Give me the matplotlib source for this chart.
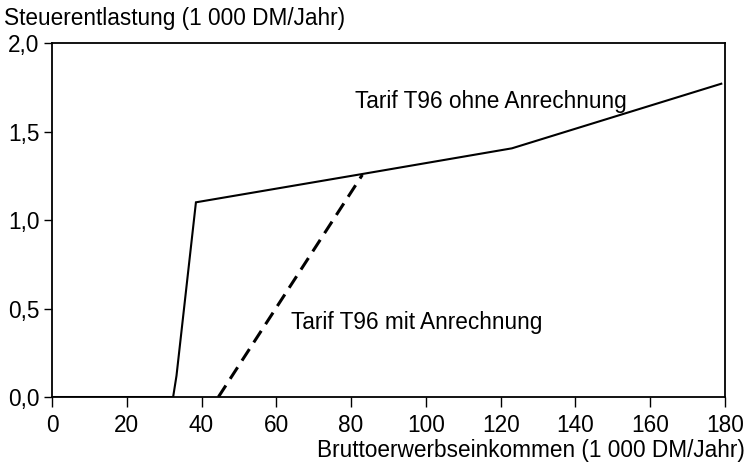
import matplotlib.pyplot as plt

# Werte
ohne_x = [0, 32.4, 33.3, 38.5, 83, 123, 179]
ohne_y = [0, 0, 0.12, 1.1, 1.26, 1.405, 1.77]
mit_x = [44.5, 83]
mit_y = [0, 1.255]

x_ticks = [0, 20, 40, 60, 80, 100, 120, 140, 160, 180]
y_ticks = [0.0, 0.5, 1.0, 1.5, 2.0]
y_labels = ['0,0', '0,5', '1,0', '1,5', '2,0']

plt.rcParams['font.family'] = ['Liberation Sans', 'DejaVu Sans']

fig = plt.figure(figsize=(7.5, 4.63), dpi=100)
ax = fig.add_axes([0.0693, 0.1425, 0.8974, 0.7646])

ax.plot(ohne_x, ohne_y, color='black', lw=1.5, solid_joinstyle='miter')
ax.plot(mit_x, mit_y, color='black', lw=2.2, linestyle=(0, (4.5, 2.6)))

ax.set_xlim(0, 180)
ax.set_ylim(0, 2.0)
ax.set_xticks(x_ticks)
ax.set_yticks(y_ticks)
ax.set_yticklabels(y_labels)
ax.tick_params(axis='x', direction='out', length=7, width=1, labelsize=16.3, pad=5)
ax.tick_params(axis='y', direction='out', length=6, width=1, labelsize=16.3, pad=3)
for s in ax.spines.values():
    s.set_linewidth(1.3)

ax.text(81, 1.67, 'Tarif T96 ohne Anrechnung', fontsize=16.3, va='center', ha='left')
ax.text(64, 0.42, 'Tarif T96 mit Anrechnung', fontsize=16.3, va='center', ha='left')

fig.text(4/750, 1 - 18/463, 'Steuerentlastung (1 000 DM/Jahr)', fontsize=16.3, va='center', ha='left')
fig.text(745/750, 1 - 450/463, 'Bruttoerwerbseinkommen (1 000 DM/Jahr)', fontsize=16.3, va='center', ha='right')

fig.savefig('out.png', dpi=100)
